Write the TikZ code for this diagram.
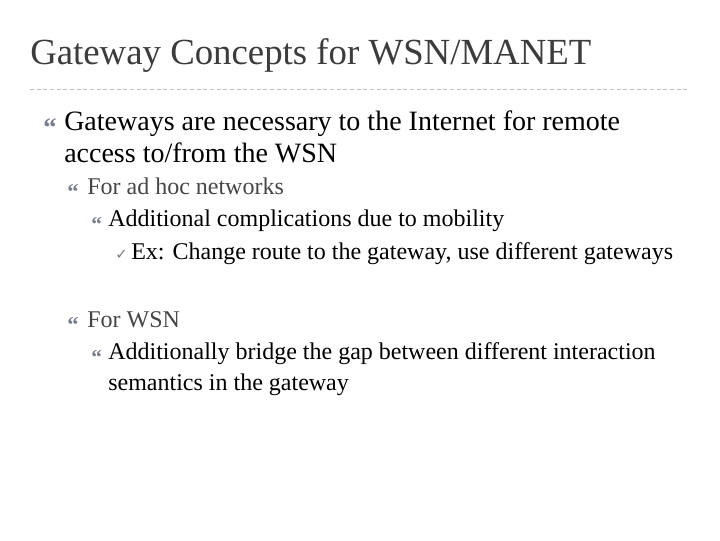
\documentclass[tikz,border=0pt]{standalone}
\usepackage{fontspec}
\setmainfont{Liberation Serif}
\newfontfamily\dejavu{DejaVu Sans}
\definecolor{titlegray}{RGB}{60,60,60}
\definecolor{lvltwo}{RGB}{70,70,70}
\definecolor{bulgray}{RGB}{120,125,140}
\begin{document}
\begin{tikzpicture}[x=0.75pt,y=-0.75pt,
  txt/.style={anchor=base west,inner sep=0pt},
  bul/.style={anchor=base west,inner sep=0pt,text=bulgray}]
\useasboundingbox[fill=white] (0,0) rectangle (720,540);
\node[txt,text=titlegray,font=\fontsize{27.6}{30}\selectfont] (title) at (30,64) {Gateway Concepts for WSN/MANET};
\draw[gray!50,dashed,dash pattern=on 3pt off 2pt] (30,89) coordinate (l1) -- (688,89) coordinate (l2);
\node[bul,font=\bfseries\fontsize{20}{20}\selectfont] (b1) at (43,136) {“};
\node[txt,font=\fontsize{21}{24}\selectfont] (t1) at (64,130) {Gateways are necessary to the Internet for remote};
\node[txt,font=\fontsize{21}{24}\selectfont] (t1b) at (64,162) {access to/from the WSN};
\node[bul,font=\bfseries\fontsize{17}{17}\selectfont] (b2) at (67,199) {“};
\node[txt,text=lvltwo,font=\fontsize{18}{20}\selectfont] (t2) at (87,194) {For ad hoc networks};
\node[bul,font=\bfseries\fontsize{16}{16}\selectfont] (b3) at (91,231) {“};
\node[txt,font=\fontsize{18}{20}\selectfont] (t3) at (108,226) {Additional complications due to mobility};
\node[bul,font=\dejavu\fontsize{11}{11}\selectfont] (b4) at (115,259) {✓};
\node[txt,font=\fontsize{18}{20}\selectfont] (t4) at (131,259) {Ex: Change route to the gateway, use different gateways};
\node[bul,font=\bfseries\fontsize{17}{17}\selectfont] (b5) at (67,332) {“};
\node[txt,text=lvltwo,font=\fontsize{18}{20}\selectfont] (t5) at (87,327) {For WSN};
\node[bul,font=\bfseries\fontsize{16}{16}\selectfont] (b6) at (91,364) {“};
\node[txt,font=\fontsize{18}{20}\selectfont] (t6) at (108,359) {Additionally bridge the gap between different interaction};
\node[txt,font=\fontsize{18}{20}\selectfont] (t6b) at (108,390) {semantics in the gateway};
\end{tikzpicture}
\end{document}
